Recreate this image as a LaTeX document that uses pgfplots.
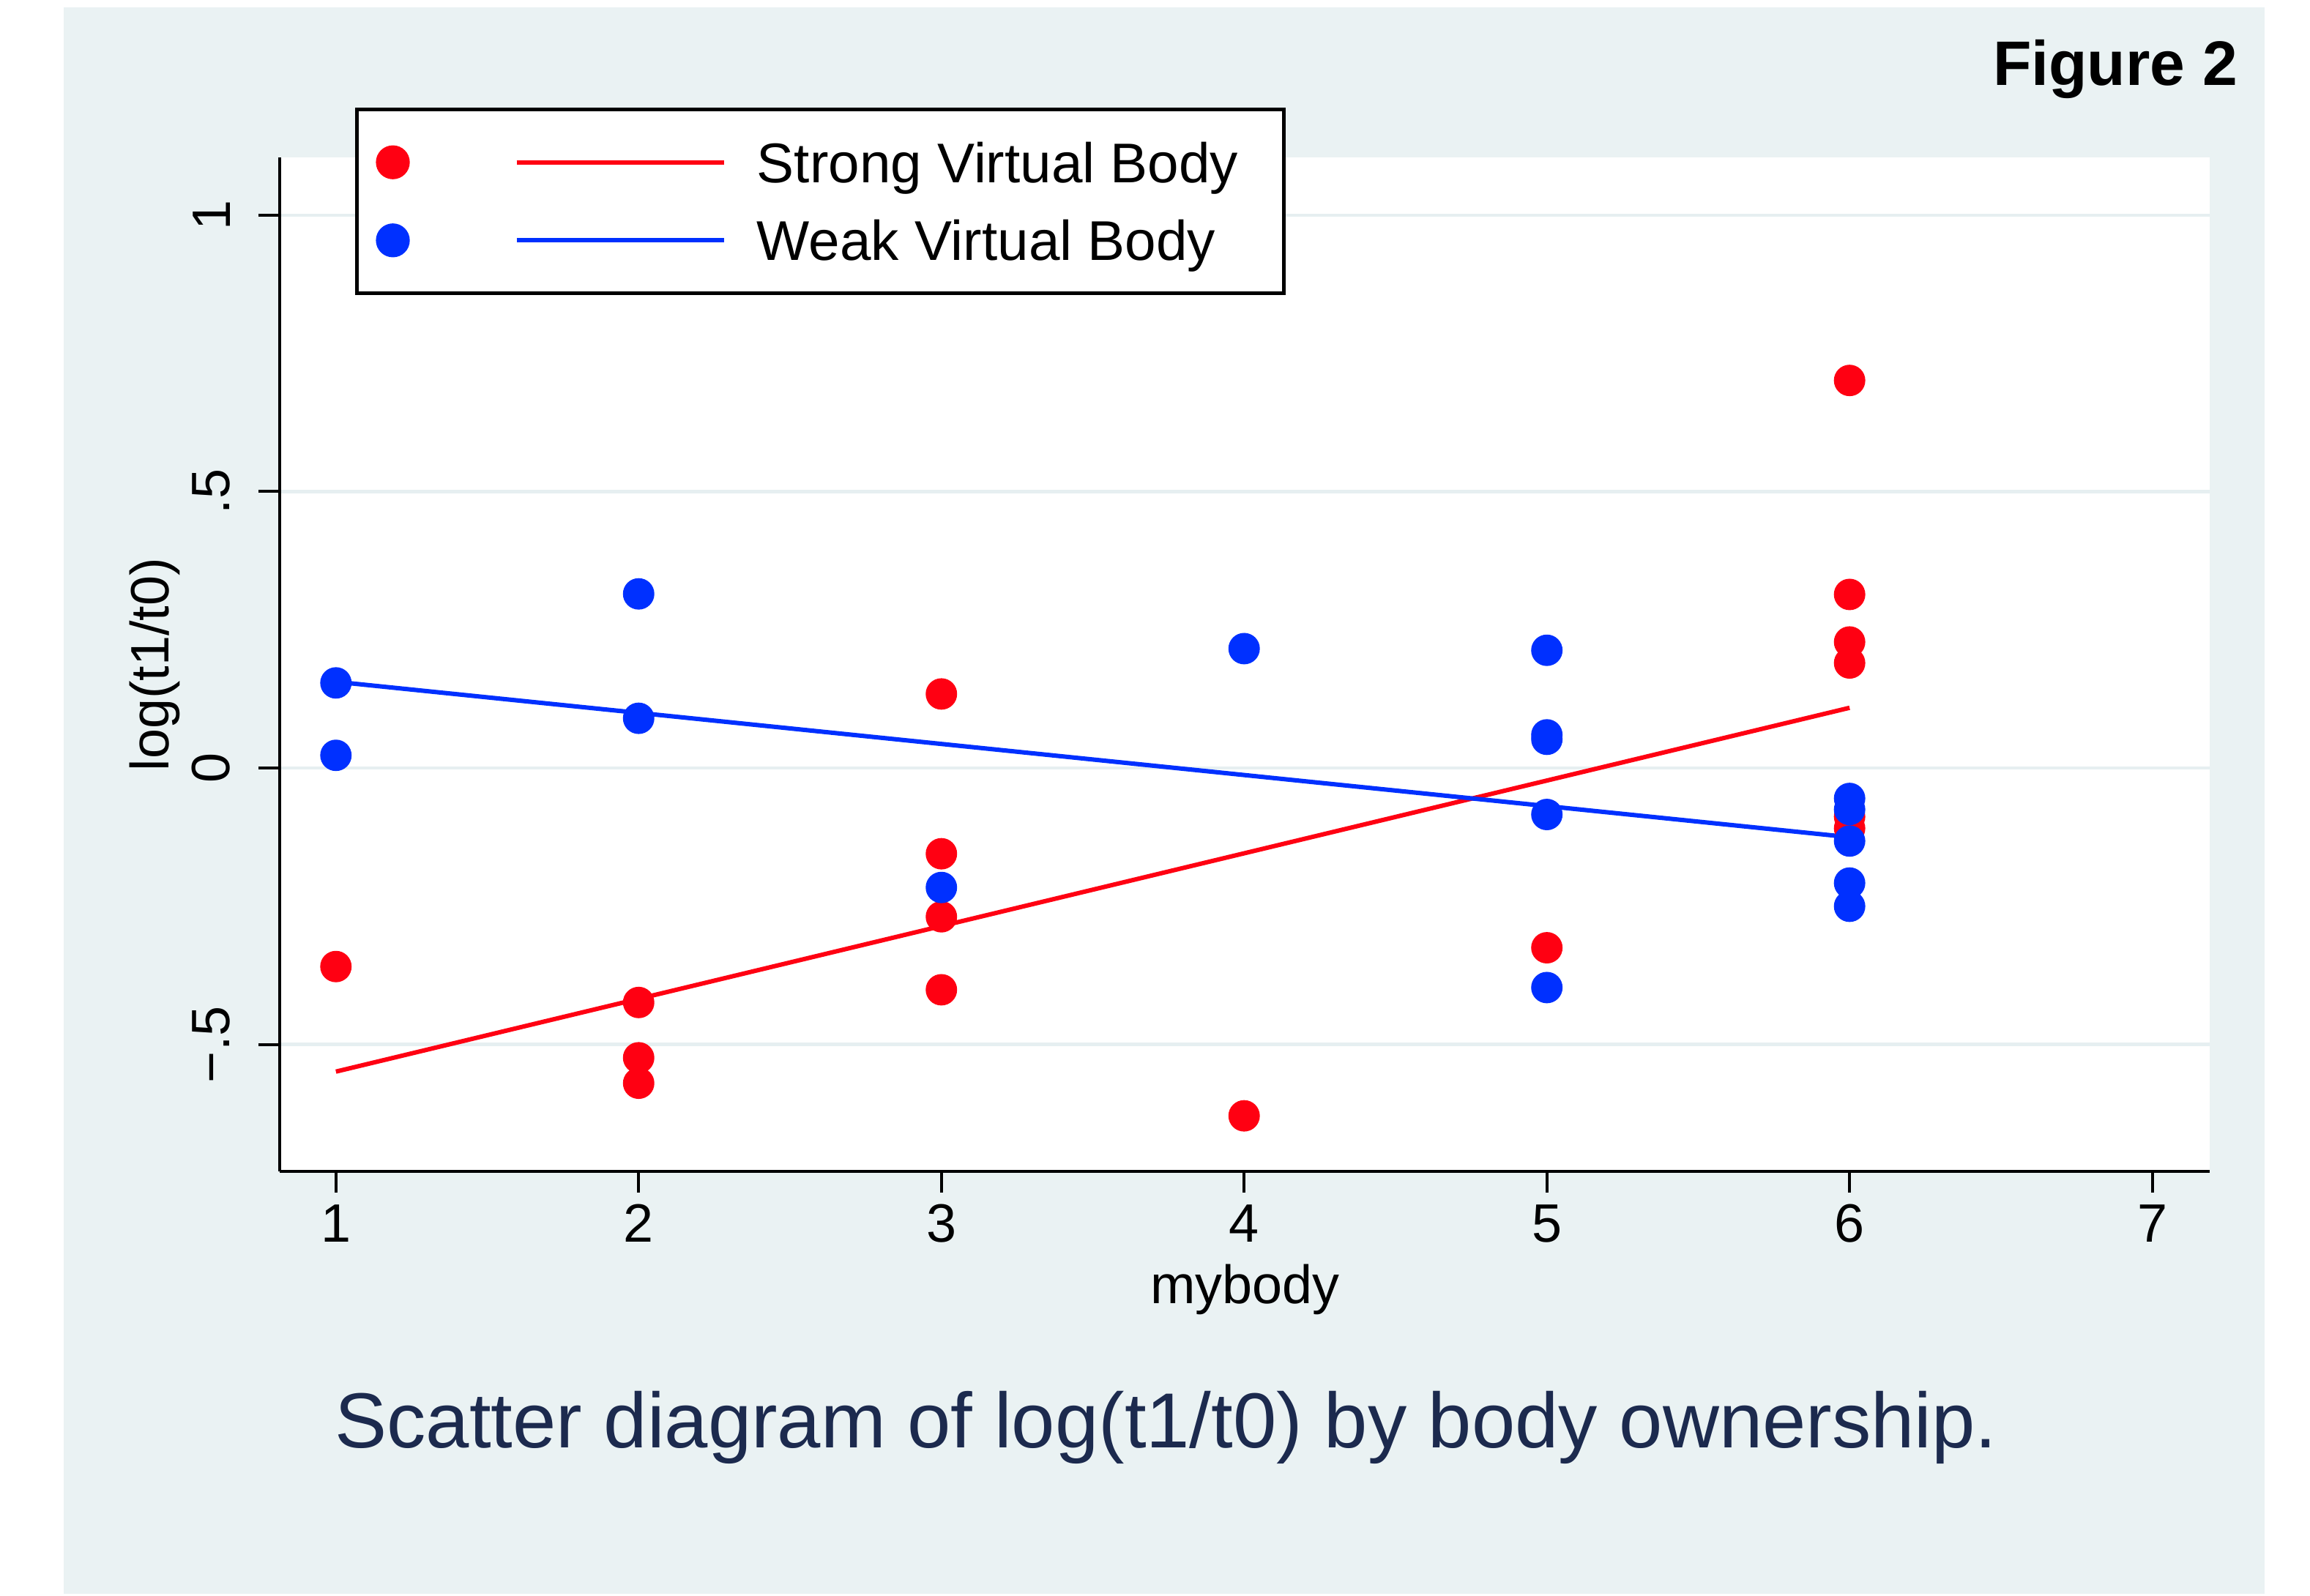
\documentclass[border=0pt]{standalone}
\usepackage{fontspec}
\setmainfont{Liberation Sans}
\usepackage{pgfplots}
\pgfplotsset{compat=1.18}

\definecolor{bgblue}{HTML}{EAF2F3}
\definecolor{gridc}{HTML}{E6EFF1}
\definecolor{sred}{HTML}{FF0012}
\definecolor{sblue}{HTML}{0030FF}
\definecolor{navy}{HTML}{1C2A4E}

\begin{document}
\begin{tikzpicture}
% page and light background panel
\fill[white] (-57pt,-86.4pt) rectangle (413.4pt,238.5pt);
\fill[bgblue] (-44.1pt,-86.1pt) rectangle (404.1pt,237pt);
\begin{axis}[
    scale only axis, width=393pt, height=206.4pt,
    xmin=0.815, xmax=7.19, ymin=-0.729, ymax=1.104,
    axis x line*=bottom, axis y line*=left,
    axis line style={black, line width=0.6pt, -},
    axis background/.style={fill=white},
    xtick={1,2,3,4,5,6,7},
    ytick={-0.5,0,0.5,1},
    yticklabels={−.5,0,.5,1},
    tick align=outside, major tick length=4.4pt,
    tick style={black, line width=0.6pt},
    ymajorgrids, grid style={gridc, line width=0.7pt},
    ticklabel style={font=\fontsize{11}{13}\selectfont},
    /pgf/number format/assume math mode=true,
    xticklabel style={anchor=north, inner sep=0pt, yshift=-2.2pt},
    yticklabel style={xshift=-5.5pt, rotate=90, anchor=south, inner sep=0pt},
    xlabel={mybody}, ylabel={log(t1/t0)},
    label style={font=\fontsize{11}{13}\selectfont},
    xlabel style={at={(axis description cs:0.5,-0.1168)}, anchor=center},
    ylabel style={at={(axis description cs:-0.0649,0.5)}, anchor=center},
    legend cell align={left},
    legend style={at={(axis description cs:0.03893,1.04942)}, anchor=north west,
        draw=black, line width=0.7pt, fill=white,
        font=\fontsize{11.4}{13}\selectfont,
        inner xsep=3.9pt, inner ysep=5.3pt,
        nodes={inner sep=0pt, text height=9.6pt, text depth=1.4pt},
        row sep=4.9pt, column sep=6.2pt},
]
% strong virtual body
\addplot[only marks, mark=*, mark size=3pt, color=sred,
    mark options={draw=none, fill=sred}, forget plot] coordinates {
    (1,-0.359)
    (2,-0.424) (2,-0.524) (2,-0.570)
    (3,0.134) (3,-0.155) (3,-0.269) (3,-0.401)
    (4,-0.629)
    (5,-0.325)
    (6,0.701) (6,0.314) (6,0.228) (6,0.190) (6,-0.088) (6,-0.109)
};
% weak virtual body
\addplot[only marks, mark=*, mark size=3pt, color=sblue,
    mark options={draw=none, fill=sblue}, forget plot] coordinates {
    (1,0.154) (1,0.023)
    (2,0.315) (2,0.090)
    (3,-0.216)
    (4,0.216)
    (5,0.213) (5,0.060) (5,0.052) (5,-0.084) (5,-0.397)
    (6,-0.055) (6,-0.075) (6,-0.132) (6,-0.208) (6,-0.250)
};
% fitted lines
\addplot[sred, line width=0.9pt, mark=none,
    legend image code/.code={
        \fill[sred] (3pt,0pt) circle (3pt);
        \draw[sred, line width=0.9pt] (28.2pt,0pt) -- (70.5pt,0pt);
    }] coordinates {(1,-0.549) (6,0.109)};
\addlegendentry{Strong Virtual Body\hspace*{5.4pt}}
\addplot[sblue, line width=0.9pt, mark=none,
    legend image code/.code={
        \fill[sblue] (3pt,0pt) circle (3pt);
        \draw[sblue, line width=0.9pt] (28.2pt,0pt) -- (70.5pt,0pt);
    }] coordinates {(1,0.156) (6,-0.125)};
\addlegendentry{Weak Virtual Body}
\end{axis}
\node[anchor=base east, inner sep=0pt, font=\fontsize{12.8}{15}\selectfont\bfseries]
    at (398.85pt,221.1pt) {Figure 2};
\node[anchor=base, inner sep=0pt, text=navy, font=\fontsize{15.9}{19}\selectfont]
    at (180.45pt,-56.4pt) {Scatter diagram of log(t1/t0) by body ownership.};
\end{tikzpicture}
\end{document}
